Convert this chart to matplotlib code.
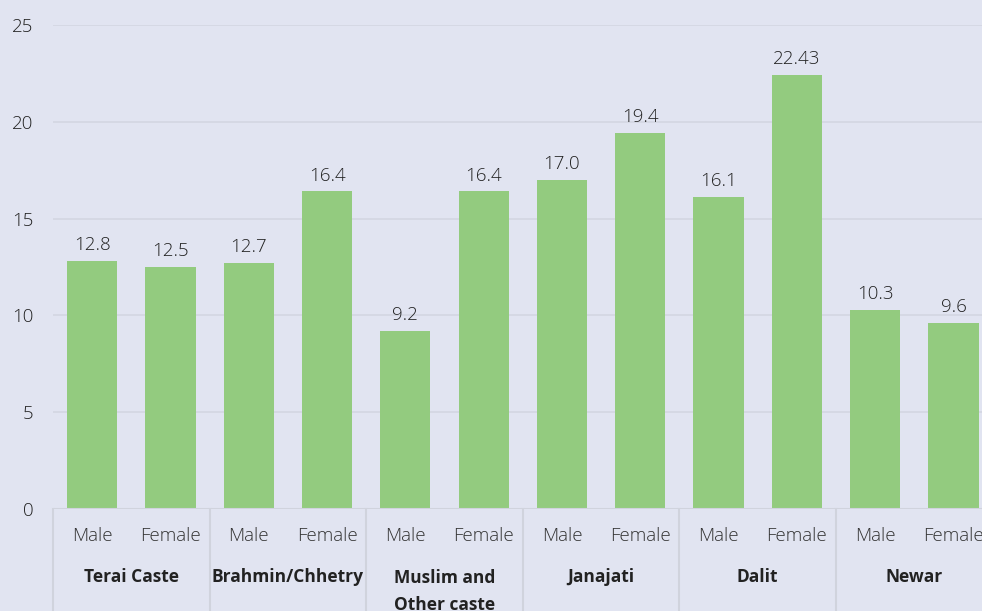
import matplotlib
matplotlib.use('Agg')
import matplotlib.pyplot as plt
from matplotlib.transforms import blended_transform_factory

plt.rcParams['font.family'] = ['Open Sans', 'DejaVu Sans']

# data
groups = ['Terai Caste', 'Brahmin/Chhetry', 'Muslim and\nOther caste',
          'Janajati', 'Dalit', 'Newar']
sexes = ['Male', 'Female']
values = [12.8, 12.5, 12.7, 16.4, 9.2, 16.4, 17.0, 19.4, 16.1, 22.43, 10.3, 9.6]
value_labels = ['12.8', '12.5', '12.7', '16.4', '9.2', '16.4',
                '17.0', '19.4', '16.1', '22.43', '10.3', '9.6']
yticks = [0, 5, 10, 15, 20, 25]

bg = '#e1e4f1'
bar_color = '#93cb7f'
grid_color = '#d3d6e2'
txt = '#222222'
fs = 13.5

W, H = 982, 611
fig = plt.figure(figsize=(W / 100, H / 100), dpi=100, facecolor=bg)
slot = 78.3
left, bottom, top = 53, 611 - 509, 611 - 25
ax = fig.add_axes([left / W, bottom / H, 12 * slot / W, (top - bottom) / H])
ax.set_facecolor(bg)

x = list(range(len(values)))
ax.bar(x, values, width=0.64, color=bar_color, zorder=3)
ax.set_xlim(-0.5, len(values) - 0.5)
ax.set_ylim(0, 25)
ax.set_yticks(yticks)
ax.grid(axis='y', color=grid_color, linewidth=1.2, zorder=0)
for s in ax.spines.values():
    s.set_visible(False)
ax.tick_params(axis='y', length=0, pad=14, labelsize=fs, labelcolor=txt)
for t in ax.get_yticklabels():
    t.set_fontweight('light')
ax.tick_params(axis='x', length=0, labelbottom=False)
ax.axhline(0, color='#d0d3dd', linewidth=1.5, zorder=4)

for xi, v, lab in zip(x, values, value_labels):
    ax.annotate(lab, (xi, v), xytext=(0, 5), textcoords='offset points',
                ha='center', va='bottom', fontsize=fs, color=txt,
                fontweight='light')

tr = blended_transform_factory(ax.transData, fig.transFigure)
for i in x:
    ax.text(i, (611 - 536) / H, sexes[i % 2], transform=tr, ha='center',
            va='center', fontsize=fs, color='#333333', clip_on=False,
            fontweight='light')
for g, name in enumerate(groups):
    two_lines = '\n' in name
    ypos = (611 - 569) / H if two_lines else (611 - 577) / H
    ax.text(2 * g + 0.5, ypos, name, transform=tr, ha='center',
            va='top' if two_lines else 'center', fontsize=12.5,
            fontweight='bold', color='#222222', clip_on=False,
            linespacing=1.65)
for g in range(len(groups) + 1):
    ax.plot([2 * g - 0.5, 2 * g - 0.5], [(611 - 509) / H, 0], transform=tr,
            color='#d0d3dd', linewidth=1.5, clip_on=False)

fig.savefig('out.png', dpi=100, facecolor=bg)
